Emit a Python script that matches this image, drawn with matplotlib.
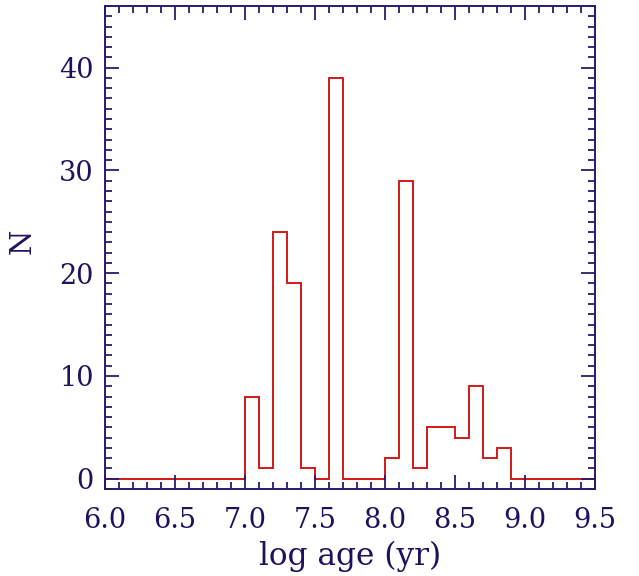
import numpy as np
import matplotlib as mpl
mpl.use("Agg")
from matplotlib import pyplot as plt
from matplotlib.ticker import MultipleLocator

# histogram of log age, bins of 0.1 dex from 6.0 to 9.5
bin_edges = np.round(np.arange(6.0, 9.5001, 0.1), 2)
counts = [0, 0, 0, 0, 0, 0, 0, 0, 0, 0,
          8, 1, 24, 19, 1, 0, 39, 0, 0, 0,
          2, 29, 1, 5, 5, 4, 9, 2, 3, 0,
          0, 0, 0, 0, 0]

navy = "#2b1a6b"
textc = "#22105e"
red = "#d41818"

mpl.rcParams.update({
    "font.family": ["DejaVu Serif"],
    "axes.edgecolor": navy,
    "axes.linewidth": 1.4,
    "xtick.color": navy,
    "ytick.color": navy,
})

fig = plt.figure(figsize=(6.39, 5.76), dpi=100)
ax = fig.add_axes([0.1643, 0.151, 0.7667, 0.8386])

ax.stairs(counts, bin_edges, color=red, linewidth=1.4)

ax.set_xlim(6.0, 9.5)
ax.set_ylim(-1, 46)
ax.xaxis.set_major_locator(MultipleLocator(0.5))
ax.xaxis.set_minor_locator(MultipleLocator(0.1))
ax.yaxis.set_major_locator(MultipleLocator(10))
ax.yaxis.set_minor_locator(MultipleLocator(1))
ax.xaxis.set_major_formatter(mpl.ticker.FormatStrFormatter("%.1f"))

ax.tick_params(which="both", direction="in", top=True, right=True,
               labelsize=19.5, labelcolor=textc)
ax.tick_params(which="major", length=10, width=1.3)
ax.tick_params(which="minor", length=5, width=1.3)
ax.tick_params(axis="x", which="major", pad=13)
ax.tick_params(axis="y", which="major", pad=8)

ax.set_xlabel("log age (yr)", fontsize=22.5, color=textc)
ax.set_ylabel("N", fontsize=21, color=textc)
ax.xaxis.set_label_coords(0.5, -0.108)
ax.yaxis.set_label_coords(-0.14, 0.513)

fig.savefig("out.png", dpi=100)
